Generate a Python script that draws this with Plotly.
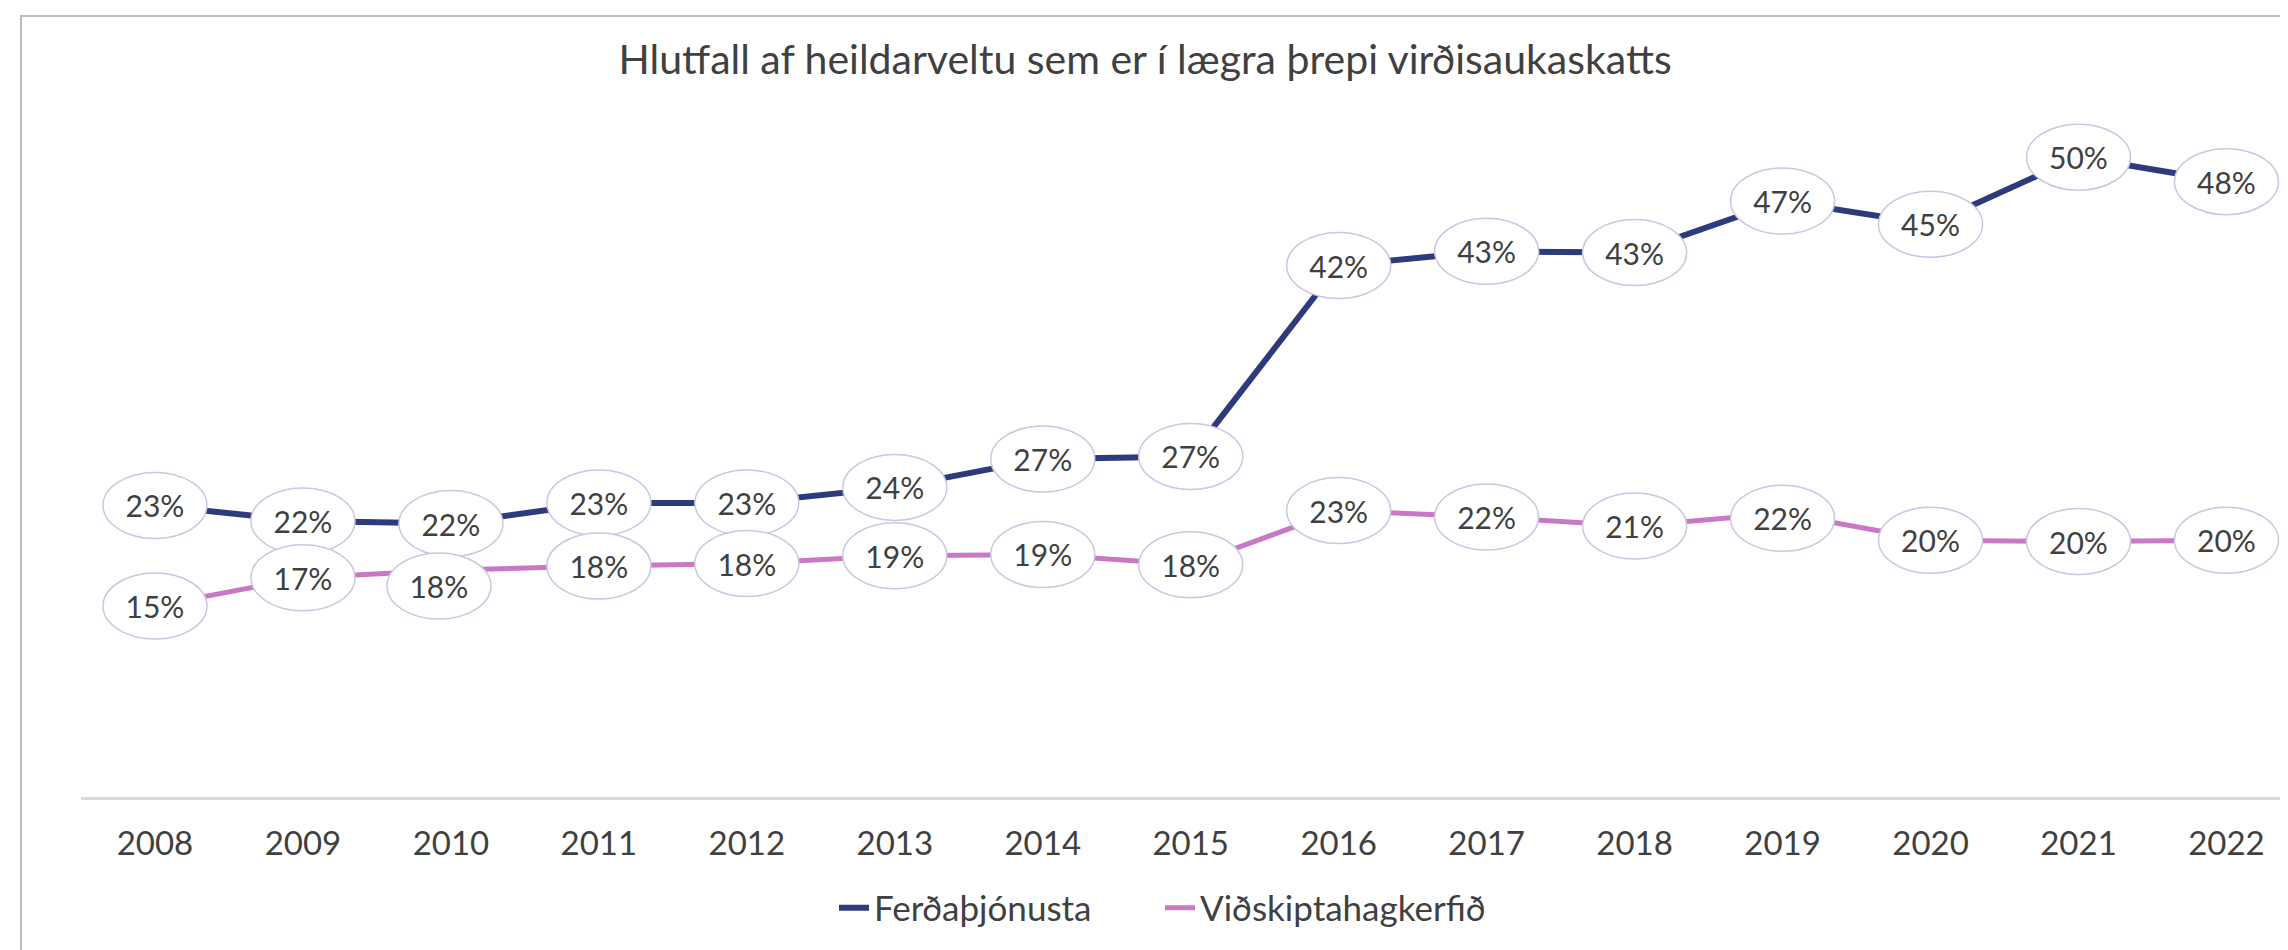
import plotly.graph_objects as go

# ---------------- data ----------------
years = ["2008", "2009", "2010", "2011", "2012", "2013", "2014", "2015",
         "2016", "2017", "2018", "2019", "2020", "2021", "2022"]

ferd_name = "Ferðaþjónusta"
ferd_values = [23.0, 21.8, 21.6, 23.2, 23.2, 24.4, 26.6, 26.8,
               41.6, 42.7, 42.6, 46.6, 44.8, 50.0, 48.1]
ferd_labels = ["23%", "22%", "22%", "23%", "23%", "24%", "27%", "27%",
               "42%", "43%", "43%", "47%", "45%", "50%", "48%"]

vid_name = "Viðskiptahagkerfið"
vid_values = [15.2, 17.4, 18.0, 18.3, 18.5, 19.1, 19.2, 18.4,
              22.6, 22.1, 21.4, 22.4, 20.3, 20.2, 20.3]
vid_labels = ["15%", "17%", "18%", "18%", "18%", "19%", "19%", "18%",
              "23%", "22%", "21%", "22%", "20%", "20%", "20%"]

title_text = "Hlutfall af heildarveltu sem er í lægra þrepi virðisaukaskatts"

# ---------------- style ----------------
FONT = "Lato"
TEXT = "#404040"
NAVY = "#2D3A7C"
PINK = "#C878C4"
ELLIPSE_LINE = "#CAC6E3"

W, H = 2288, 950
ML, MR, MT, MB = 73, 0, 92, 161
plot_w = W - ML - MR
plot_h = H - MT - MB
PX_PER_PCT = 12.9
y_min = 0.4
y_max = y_min + plot_h / PX_PER_PCT
x_range = [-0.5, 14.47]
PX_PER_CAT = plot_w / (x_range[1] - x_range[0])

# manual label nudges (pixels, +y = up) for a few labels, as in the original chart
label_nudge = {("vid", "2010"): (-12, -16), ("vid", "2019"): (0, -5)}

ELL_W, ELL_H = 104, 66  # pixels
half_w = ELL_W / 2 / PX_PER_CAT
half_h = ELL_H / 2 / PX_PER_PCT

fig = go.Figure()
fig.add_trace(go.Scatter(x=years, y=ferd_values, mode="lines", name=ferd_name,
                         line=dict(color=NAVY, width=6), hoverinfo="skip"))
fig.add_trace(go.Scatter(x=years, y=vid_values, mode="lines", name=vid_name,
                         line=dict(color=PINK, width=5), hoverinfo="skip"))

shapes = []
# outer chart border
shapes.append(dict(type="rect", xref="paper", yref="paper",
                   x0=(13 - ML) / plot_w, x1=1.2,
                   y0=-0.5, y1=(MT + plot_h - 8) / plot_h,
                   line=dict(color="#BDBDBD", width=2), fillcolor="rgba(0,0,0,0)",
                   layer="below"))

for key, vals, labs in (("ferd", ferd_values, ferd_labels), ("vid", vid_values, vid_labels)):
    for idx, (yr, v, lab) in enumerate(zip(years, vals, labs)):
        dx, dy = label_nudge.get((key, yr), (0, 0))
        cx = idx + dx / PX_PER_CAT
        cy = v + dy / PX_PER_PCT
        shapes.append(dict(
            type="circle", xref="x", yref="y",
            x0=cx - half_w, x1=cx + half_w,
            y0=cy - half_h, y1=cy + half_h,
            fillcolor="white", line=dict(color=ELLIPSE_LINE, width=1.5),
            layer="above",
            label=dict(text=lab, textposition="middle center",
                       font=dict(family=FONT, size=30, color=TEXT)),
        ))

fig.update_layout(
    width=W, height=H,
    margin=dict(l=ML, r=MR, t=MT, b=MB, pad=0, autoexpand=False),
    paper_bgcolor="white", plot_bgcolor="white",
    title=dict(text=title_text, x=0.497, xref="container", xanchor="center",
               y=1 - 52 / H, yref="container", yanchor="middle",
               font=dict(family=FONT, size=41, color=TEXT)),
    showlegend=True,
    legend=dict(orientation="h", xref="container", yref="container",
                x=826 / W, xanchor="left", y=1 - 900 / H, yanchor="middle",
                font=dict(family=FONT, size=35, color=TEXT),
                itemwidth=30, entrywidth=281, entrywidthmode="pixels",
                tracegroupgap=0, bgcolor="rgba(0,0,0,0)"),
    shapes=shapes,
    xaxis=dict(type="category", range=x_range, showgrid=False, zeroline=False,
               showline=True, linecolor="#DADADA", linewidth=3,
               ticks="", ticklabelstandoff=15,
               tickfont=dict(family=FONT, size=33, color=TEXT), fixedrange=True),
    yaxis=dict(range=[y_min, y_max], visible=False, showgrid=False, zeroline=False,
               fixedrange=True),
)

fig.write_html("out.html", config={"displayModeBar": False})
